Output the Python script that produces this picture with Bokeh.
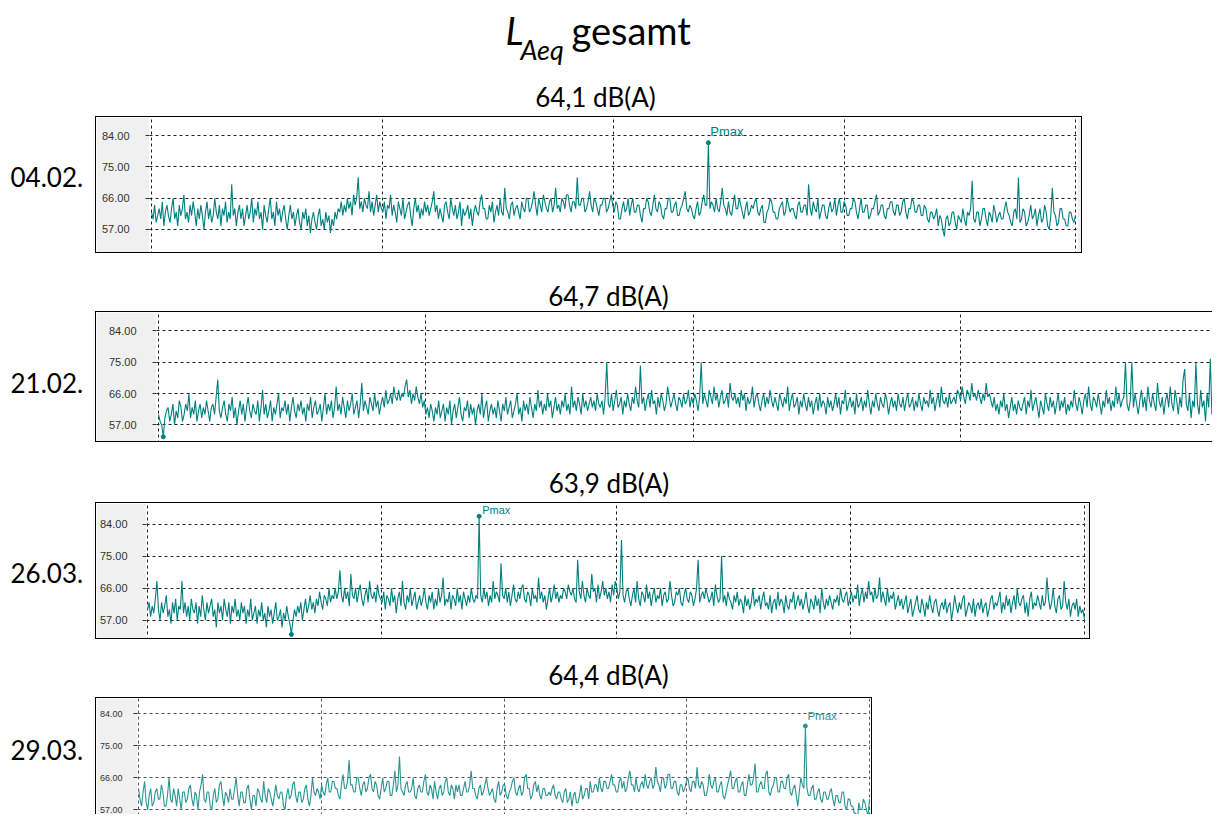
import numpy as np
from bokeh.plotting import figure
from bokeh.models import Range1d, FixedTicker, Grid, Label, PrintfTickFormatter, ColumnDataSource
from bokeh.layouts import column, row
from bokeh.embed import file_html
from bokeh.resources import INLINE

# ---------------- data ----------------
title_sub = "Aeq"
title_rest = "gesamt"
dates = ["04.02.", "21.02.", "26.03.", "29.03."]
means = ["64,1 dB(A)", "64,7 dB(A)", "63,9 dB(A)", "64,4 dB(A)"]
y_ticks = [57, 66, 75, 84]
x_grid = [0, 1, 2, 3, 4]
x_spans = [4.0, 3.9476, 4.0, 4.0]
show_max = [True, False, True, True]
show_min = [False, True, True, True]

laeq_0402 = [
    62,60,64,59,61,63,60,65,58,62,64,61,59,63,66,60,62,58,64,61,63,67,60,62,59,64,61,65,62,58,
    63,60,64,61,57,62,65,60,63,59,61,66,62,60,64,58,63,61,65,59,62,60,70,61,63,58,62,64,60,63,
    58,61,64,60,62,66,59,63,61,65,60,62,57,64,61,59,63,66,60,62,58,65,61,63,59,62,64,60,57,61,
    64,60,62,58,61,63,59,57,62,60,63,58,61,56,60,62,59,57,61,63,58,60,57,62,59,61,56,60,58,62,
    60,63,62,65,61,64,62,66,63,65,61,67,64,66,72,63,65,62,66,64,63,68,62,65,61,64,67,62,65,63,
    62,65,60,64,63,67,61,64,62,59,65,63,61,66,60,62,64,65,61,58,63,66,62,64,60,63,61,65,62,64,
    61,63,65,68,62,64,60,63,61,59,64,65,62,60,66,63,61,64,60,62,65,58,63,61,62,64,60,63,58,62,
    64,62,61,65,67,63,63,60,60,64,62,65,59,62,64,61,66,62,61,69,63,62,60,64,65,61,63,64,62,60,
    65,63,62,66,66,62,63,65,68,64,61,66,64,62,67,65,63,62,65,66,62,64,69,63,64,62,66,65,63,67,
    67,64,62,65,65,63,72,64,64,66,66,62,63,65,68,64,62,66,65,63,61,64,64,66,66,62,63,65,67,64,
    62,65,64,60,60,63,65,62,63,66,61,64,66,62,62,64,64,61,59,63,63,66,65,62,61,64,67,63,62,65,
    64,61,60,63,63,66,66,62,62,64,65,61,61,63,64,66,68,63,62,64,63,61,60,63,65,61,62,65,67,64,
    64,82,63,65,64,62,66,63,62,65,69,64,63,61,65,62,61,64,67,63,63,66,64,62,60,63,65,61,62,64,
    63,65,66,62,61,63,64,59,59,62,63,66,65,62,62,60,60,63,64,65,61,62,66,64,62,63,63,61,60,64,
    65,62,62,64,64,61,70,63,61,65,63,62,66,60,62,64,64,61,60,63,65,62,63,66,61,64,66,62,62,65,
    64,61,61,63,63,66,65,62,60,63,66,62,62,64,64,60,61,63,63,65,67,61,62,64,64,61,60,63,63,65,
    65,62,61,64,64,61,62,65,66,62,60,63,63,66,65,62,62,64,64,61,61,64,63,60,59,62,62,60,61,63,
    58,61,60,57,55,60,61,58,59,62,62,59,57,61,60,59,63,60,58,62,61,63,71,60,59,62,62,58,60,63,
    63,60,58,62,61,59,64,62,59,61,62,60,60,63,65,62,61,59,58,62,63,60,72,59,60,63,62,58,59,61,
    64,60,61,63,58,61,63,59,60,64,62,58,57,61,69,62,61,58,59,63,63,60,60,58,58,62,62,60,59,61,
]

laeq_2102 = [
    60,58,57,53.6,59,61,62,58,60,63,57,61,59,64,62,58,60,63,61,66,59,62,60,64,58,61,63,59,62,60,
    64,61,58,62,63,60,65,70,61,59,62,64,60,58,63,61,65,59,62,57,61,64,60,63,58,62,65,61,59,63,
    61,60,64,58,62,67,60,63,59,61,64,58,62,60,63,66,59,62,61,64,60,63,58,62,65,61,59,63,61,64,
    60,62,58,63,61,65,59,62,64,60,61,63,58,62,66,60,63,61,64,59,62,68,61,63,60,65,62,59,64,61,
    63,66,60,62,64,59,63,69,61,64,62,60,65,63,61,66,62,64,60,63,65,62,67,63,64,66,63,68,65,64,
    67,64,66,65,68,70,65,67,63,66,64,68,65,63,66,62,64,60,62,59,63,61,58,62,60,64,59,61,63,58,
    62,60,64,57,61,63,59,62,65,60,58,62,61,64,59,63,60,62,57,61,63,60,66,59,62,64,58,61,63,60,
    62,59,64,61,58,63,61,65,60,62,64,59,61,63,66,60,62,58,64,61,63,60,65,62,59,63,61,67,62,64,
    60,63,61,66,62,64,59,62,65,61,63,60,64,62,66,61,63,60,68,62,64,61,65,63,60,66,62,64,61,63,
    65,62,64,61,66,63,62,64,60,65,75,63,62,66,61,64,67,62,63,65,60,64,62,66,63,61,65,63,68,64,
    62,74,63,65,61,64,66,62,67,63,64,60,65,62,66,64,61,63,68,65,62,64,66,63,61,65,64,62,66,63,
    64,67,62,65,63,66,64,61,65,75,63,66,64,62,67,65,63,68,64,66,62,65,67,63,64,66,62,69,65,64,
    66,63,65,62,67,64,66,61,65,63,64,68,62,65,66,63,61,64,66,62,65,63,67,64,62,65,63,61,66,64,
    62,65,63,68,61,64,66,62,63,65,60,64,62,66,63,61,65,62,64,60,63,65,61,66,62,64,63,60,65,62,
    64,61,63,66,62,65,60,64,63,67,61,63,65,62,64,60,66,62,63,65,61,64,62,67,63,60,64,62,66,63,
    61,65,63,62,66,64,60,63,65,62,64,61,66,63,62,65,61,64,66,62,63,65,61,64,62,66,63,61,65,63,
    64,62,67,63,65,61,64,66,62,68,64,63,65,62,66,63,64,65,63,67,66,64,68,65,63,67,66,64,69,65,
    66,64,67,65,63,66,64,69,65,66,64,62,65,61,63,60,64,62,66,61,63,59,62,65,61,63,60,64,62,61,
    63,65,60,64,62,67,61,63,65,62,59,64,62,60,66,63,61,65,62,64,60,63,66,61,64,62,65,60,63,61,
    64,62,67,63,61,65,63,60,64,66,62,68,63,61,65,64,62,66,63,60,64,62,67,63,65,61,64,62,68,63,
    66,62,64,65,75,63,61,64,75,62,66,63,60,64,67,62,65,61,68,64,62,66,63,61,69,64,62,65,60,64,
    66,62,68,63,61,67,64,60,65,62,70,73,63,61,66,59,64,62,75,63,60,67,62,64,58,66,62,76,60,63,
]

laeq_2603 = [
    60,62,58,61,59,63,68,60,57,62,59,61,64,58,60,56,62,59,63,57,61,60,68,59,62,58,61,57,63,60,
    59,62,56,61,58,64,60,57,62,59,61,63,58,60,55,62,59,61,57,63,60,58,62,56,61,59,63,58,60,57,
    62,59,61,56,60,58,63,57,59,61,56,60,58,62,57,59,55,61,58,60,56,59,62,57,58,60,55,59,57,61,
    58,56,53,57,60,58,61,59,62,57,60,63,59,61,64,60,62,59,63,61,65,62,60,64,63,61,66,62,64,63,
    66,63,65,71,64,62,66,63,65,61,70,64,63,66,62,65,67,63,61,64,66,62,68,64,63,65,62,67,64,63,
    62,65,60,64,63,61,66,62,64,59,63,65,61,68,62,60,64,62,66,61,63,65,60,62,64,61,63,66,62,60,
    64,62,65,60,63,61,66,62,64,69,61,63,62,65,60,64,63,61,66,62,64,60,65,63,61,64,62,66,63,62,
    64,63,86.2,64,62,66,63,65,61,64,62,68,63,65,64,62,73,64,63,66,62,65,61,64,67,63,62,65,63,66,
    67,63,62,65,64,61,66,63,64,62,69,63,65,62,64,60,63,66,62,64,67,63,65,62,64,63,66,65,63,67,
    65,64,66,63,62,74,65,63,68,64,62,66,64,63,70,65,66,62,67,63,65,68,64,66,63,65,62,67,64,68,
    66,63,65,79.5,64,62,65,66,63,61,64,66,62,68,63,61,65,64,62,67,63,65,61,64,66,62,64,63,66,61,
    64,65,62,63,68,64,61,62,65,64,66,62,61,64,66,63,62,65,64,61,63,66,74,62,64,65,63,66,64,62,
    63,65,61,67,64,62,63,75,62,64,61,65,63,62,60,64,62,65,61,63,62,59,64,61,63,60,62,66,61,63,
    62,64,60,63,65,61,62,60,64,59,62,63,60,65,61,63,62,59,64,61,60,63,62,65,60,62,64,61,63,60,
    62,65,61,59,63,62,60,64,61,63,59,66,62,60,63,61,64,62,60,63,62,64,61,66,63,62,64,65,61,63,
    65,62,64,63,67,61,64,66,62,65,63,68,64,65,62,66,63,64,69,62,65,63,61,66,62,64,63,65,60,62,
    64,61,63,60,62,64,59,61,63,58,60,62,64,60,59,63,61,58,62,60,64,61,59,62,63,60,58,61,62,60,
    63,59,61,62,57,60,64,61,59,62,60,63,64,58,60,62,61,59,63,58,61,62,60,63,59,61,62,58,60,63,
    64,60,62,61,63,65,59,62,60,64,61,63,59,62,64,60,66,62,61,63,64,59,62,58,63,65,60,62,61,64,
    62,60,64,61,62,69,63,60,62,66,61,59,63,64,60,61,68,62,60,63,58,61,62,60,63,58,61,59,60,57,
]

laeq_2903 = [
    63,60,58,62,65,59,57,61,63,58,59,62,63,60,60,64,62,58,58,61,66,60,59,63,61,58,63,60,57,62,
    62,59,60,63,64,60,58,62,61,57,62,64,67,60,59,62,62,58,57,61,63,59,60,64,65,61,58,62,61,59,
    63,60,60,63,66,61,58,62,62,59,59,63,64,60,57,61,61,58,63,62,60,59,65,61,59,63,62,60,58,61,
    64,61,60,62,62,58,57,61,63,60,61,64,65,61,59,62,62,59,60,63,64,60,58,61,66,62,61,63,62,60,
    64,62,61,64,66,62,62,65,65,63,63,61,60,64,67,63,63,65,71,64,64,62,62,66,66,63,61,64,65,62,
    63,66,67,63,62,65,64,61,60,63,66,62,63,65,65,61,61,64,68,62,64,72,63,62,61,64,65,62,62,63,
    66,61,60,63,64,62,62,65,67,62,61,64,63,60,65,62,60,63,64,61,62,65,66,62,61,64,63,60,64,62,
    64,61,61,63,65,62,62,64,68,63,63,61,60,63,64,61,62,64,66,63,61,62,63,60,59,63,65,61,62,64,
    64,61,60,62,63,65,66,62,61,63,64,61,62,66,67,63,63,60,61,64,65,62,64,61,60,63,63,61,61,62,
    61,63,64,61,60,62,62,60,59,62,63,59,60,62,58,61,62,59,59,61,64,60,61,63,63,60,65,62,62,64,
    64,62,66,63,62,65,65,63,63,65,67,64,64,62,62,65,66,63,65,62,63,66,68,64,64,62,66,63,62,64,
    65,63,67,64,63,65,66,63,64,69,65,64,62,66,66,63,64,67,67,63,63,65,65,62,61,64,64,62,63,65,
    66,63,62,65,65,63,69,64,63,65,64,61,61,63,67,64,63,65,66,62,62,64,65,61,60,62,64,66,68,63,
    63,65,66,62,62,64,65,61,61,64,67,64,64,66,70,62,62,64,65,63,63,67,68,62,61,63,64,66,66,62,
    62,65,65,63,63,66,67,62,61,63,64,61,58,62,66,64,63,80.6,63,61,61,63,64,60,60,62,63,60,59,62,
    62,60,60,62,63,60,58,61,61,59,59,62,62,58,57,60,60,58,58,56,56,53.5,59,57,57,60,59,57,55,60,
]

series = [laeq_0402, laeq_2102, laeq_2603, laeq_2903]

# ---------------- layout / style ----------------
TEAL = "#007f7f"
FONT = "Lato"

def text_fig(w, h, x0, y0):
    f = figure(width=w, height=h, x_range=Range1d(x0, x0 + w), y_range=Range1d(y0 + h, y0),
               output_backend="svg", toolbar_location=None, min_border=0,
               x_axis_location=None, y_axis_location=None)
    for g in f.grid:
        g.visible = False
    f.outline_line_color = None
    f.background_fill_color = "white"
    f.border_fill_color = "white"
    return f

cfg = [
    dict(cw=985, ch=135, mbl=53, mbr=6, xr=(-2/230.5, 4 + 2/230.5), yr=(49.77, 89.27),
         borders=("top", "left", "bottom", "right"), fs="11px", sd=16, pfs="13px", pyo=4, pxo=2,
         line=TEAL, grid="#222222"),
    dict(cw=1116, ch=129, mbl=60, mbr=0, xr=(-2/267, 3.9476), yr=(51.67, 89.24),
         borders=("top", "left", "bottom"), fs="11px", sd=16, pfs="13px", pyo=4, pxo=2,
         line=TEAL, grid="#222222"),
    dict(cw=993, ch=135, mbl=48, mbr=6, xr=(-1/234.25, 4 + 1/234.25), yr=(51.3, 89.79),
         borders=("top", "left", "bottom", "right"), fs="11px", sd=15, pfs="11px", pyo=0, pxo=3,
         line=TEAL, grid="#222222"),
    dict(cw=775, ch=116, mbl=38, mbr=3, xr=(-1/183, 4 + 1/183), yr=(55.38, 88.35),
         borders=("top", "left", "right"), fs="9px", sd=11, pfs="11.5px", pyo=4, pxo=2,
         line="#2a9494", grid="#555555"),
]

def panel(vals, span, c, mark_max, mark_min):
    n = len(vals)
    xs = np.linspace(0, span, n)
    src = ColumnDataSource(dict(x=xs, y=vals))
    p = figure(width=c["cw"], height=c["ch"], x_range=Range1d(*c["xr"]), y_range=Range1d(*c["yr"]),
               output_backend="svg", toolbar_location=None, x_axis_location=None,
               y_axis_location="left", min_border_left=c["mbl"], min_border_right=c["mbr"],
               min_border_top=0, min_border_bottom=0)
    for g in p.grid:
        g.visible = False
    p.border_fill_color = "#f0f0f0"
    p.background_fill_color = "white"
    p.outline_line_color = None
    ax = p.yaxis[0]
    ax.ticker = FixedTicker(ticks=y_ticks)
    ax.formatter = PrintfTickFormatter(format="%.2f")
    ax.axis_line_color = None
    ax.major_tick_in = 0
    ax.major_tick_out = 4
    ax.major_tick_line_color = "#333333"
    ax.minor_tick_line_color = None
    ax.major_label_text_font = "Liberation Sans"
    ax.major_label_text_font_size = c["fs"]
    ax.major_label_text_color = "#333333"
    ax.major_label_standoff = c["sd"]
    for dim, ticks in ((1, y_ticks), (0, x_grid)):
        g = Grid(dimension=dim, ticker=FixedTicker(ticks=ticks), grid_line_color=c["grid"],
                 grid_line_dash="3 3", grid_line_width=1)
        p.add_layout(g)
    p.line("x", "y", source=src, line_color=c["line"], line_width=1.1)
    if mark_max:
        imax = int(np.argmax(vals))
        p.scatter([xs[imax]], [vals[imax]], size=4, color=c["line"])
        p.add_layout(Label(x=xs[imax], y=vals[imax], x_offset=c["pxo"], y_offset=c["pyo"], text="Pmax",
                           text_font="Liberation Sans", text_font_size=c["pfs"],
                           text_color=c["line"], text_baseline="bottom"))
    if mark_min:
        imin = int(np.argmin(vals))
        p.scatter([xs[imin]], [vals[imin]], size=4, color=c["line"])
    st = {"box-sizing": "content-box"}
    for b in ("top", "left", "bottom", "right"):
        st["border-" + b] = "1px solid #000000" if b in c["borders"] else "none"
    p.styles = st
    return p

# vertical page positions (text y is the anchor used by Label)
title_h, sub1_h = 68, 40
sub_h = [sub1_h, 58, 60, 58]
panel_top = [116, 311, 502, 697]
sub_y = [96, 295, 482, 674]
sub_cx = [595, 608, 608.5, 608]
lab_y = [176, 382, 572, 749]

children = []
tf = text_fig(1204, title_h, 8, 8)
tf.add_layout(Label(x=505, y=29, text="L", text_font=FONT, text_font_style="italic",
                    text_font_size="38px", text_baseline="alphabetic", text_color="black"))
tf.add_layout(Label(x=520, y=49, text=title_sub, text_font=FONT, text_font_style="italic",
                    text_font_size="27px", text_baseline="alphabetic", text_color="black"))
tf.add_layout(Label(x=571, y=29, text=title_rest, text_font=FONT,
                    text_font_size="38px", text_baseline="alphabetic", text_color="black"))
children.append(tf)

for k in range(4):
    c = cfg[k]
    host_h = c["ch"] + (1 if "top" in c["borders"] else 0) + (1 if "bottom" in c["borders"] else 0)
    top = panel_top[k]
    sf = text_fig(1204, sub_h[k], 8, top - sub_h[k])
    sf.add_layout(Label(x=sub_cx[k], y=sub_y[k], text=means[k], text_font=FONT,
                        text_font_size="26px", text_align="center", text_baseline="alphabetic",
                        text_color="black"))
    children.append(sf)
    lf = text_fig(87, host_h, 8, top)
    lf.add_layout(Label(x=10, y=lab_y[k], text=dates[k], text_font=FONT,
                        text_font_size="26px", text_align="left", text_baseline="alphabetic",
                        text_color="black"))
    pp = panel(series[k], x_spans[k], c, show_max[k], show_min[k])
    children.append(row(lf, pp, spacing=0))

layout = column(*children, spacing=0, margin=(8, 0, 0, 8))
open("out.html", "w").write(file_html(layout, INLINE))
